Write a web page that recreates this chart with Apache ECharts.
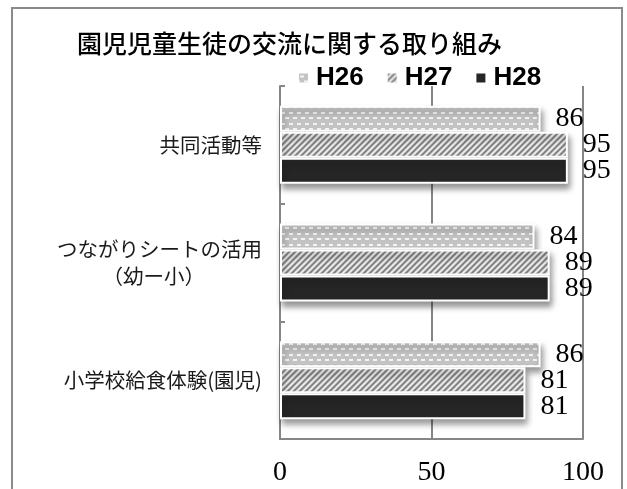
<!DOCTYPE html>
<html>
<head>
<meta charset="utf-8">
<script src="https://cdn.jsdelivr.net/npm/echarts@6/dist/echarts.min.js"></script>
<style>
  html, body { margin: 0; padding: 0; background: #fff; }
  #chart { width: 627px; height: 489px; }
</style>
</head>
<body>
<div id="chart"></div>
<script>
// Activities (top to bottom)
const categories = ['共同活動等', 'つながりシートの活用\n（幼ー小）', '小学校給食体験(園児)'];
// Fiscal years
const seriesNames = ['H26', 'H27', 'H28'];
const valuesH26 = [86, 84, 86];
const valuesH27 = [95, 89, 81];
const valuesH28 = [95, 89, 81];
// Value axis range
const axisMin = 0;
const axisMax = 100;
const axisStep = 50;

// Dotted gray fill
function dotPattern() {
  const c = document.createElement('canvas');
  c.width = 8; c.height = 11;
  const g = c.getContext('2d');
  g.fillStyle = '#c3c3c3';
  g.fillRect(0, 0, 8, 11);
  g.fillStyle = '#f4f4f4';
  g.fillRect(1, 2, 4, 2);
  g.fillRect(5, 7, 3, 2);
  g.fillRect(0, 7, 1, 2);
  return c;
}

// Diagonal stripe fill
function stripePattern() {
  const c = document.createElement('canvas');
  c.width = 6; c.height = 6;
  const g = c.getContext('2d');
  const shades = ['#7a7a7a', '#9c9c9c', '#d4d4d4', '#f4f4f4', '#d4d4d4', '#9c9c9c'];
  for (let y = 0; y < 6; y++) {
    for (let x = 0; x < 6; x++) {
      g.fillStyle = shades[(x + y) % 6];
      g.fillRect(x, y, 1, 1);
    }
  }
  return c;
}

const fills = [
  { image: dotPattern(), repeat: 'repeat' },
  { image: stripePattern(), repeat: 'repeat' },
  '#262626'
];
const seriesValues = [valuesH26, valuesH27, valuesH28];

const chart = echarts.init(document.getElementById('chart'), null, { renderer: 'canvas' });

const option = {
  animation: false,
  backgroundColor: '#fff',
  title: {
    text: '園児児童生徒の交流に関する取り組み',
    left: 72,
    top: 26,
    textStyle: {
      fontFamily: '"Noto Sans CJK JP", sans-serif',
      fontSize: 25,
      fontWeight: 500,
      color: '#000'
    }
  },
  legend: {
    data: seriesNames,
    left: 294,
    top: 60,
    itemWidth: 9,
    itemHeight: 9,
    itemGap: 24,
    icon: 'rect',
    itemStyle: { borderWidth: 0, shadowBlur: 0, shadowOffsetX: 0, shadowOffsetY: 0 },
    textStyle: {
      fontFamily: '"Liberation Sans", Arial, sans-serif',
      fontSize: 26,
      fontWeight: 'bold',
      color: '#000',
      padding: [0, 0, 0, 3]
    }
  },
  graphic: [{
    type: 'rect',
    shape: { x: 12, y: 8, width: 610, height: 500 },
    style: { fill: 'none', stroke: '#8a8a8a', lineWidth: 2 },
    silent: true,
    z: -1
  }],
  grid: { left: 280, right: 44, top: 86, bottom: 50 },
  xAxis: {
    type: 'value',
    min: axisMin,
    max: axisMax,
    interval: axisStep,
    axisLine: { show: true, lineStyle: { color: '#868686', width: 2 } },
    axisTick: { show: false },
    splitLine: { show: true, lineStyle: { color: '#868686', width: 2 } },
    axisLabel: {
      margin: 20,
      fontFamily: '"Liberation Serif", serif',
      fontSize: 28,
      color: '#000'
    }
  },
  yAxis: {
    type: 'category',
    data: categories,
    inverse: true,
    axisLine: { show: true, lineStyle: { color: '#868686', width: 2 } },
    axisTick: { show: true, inside: true, length: 5, lineStyle: { color: '#868686', width: 2 } },
    axisLabel: {
      margin: 18,
      fontFamily: '"Noto Sans CJK JP", sans-serif',
      fontSize: 20.5,
      lineHeight: 27,
      color: '#1a1a1a',
      formatter: function (v) {
        const lines = v.split('\n');
        if (lines.length < 2) return v;
        return lines[0] + '\n{sub|' + lines[1] + '}';
      },
      rich: {
        sub: {
          fontFamily: '"Noto Sans CJK JP", sans-serif',
          fontSize: 20.5,
          lineHeight: 27,
          color: '#1a1a1a',
          padding: [0, 57, 0, 0]
        }
      }
    }
  },
  series: seriesNames.map(function (name, i) {
    return {
      name: name,
      type: 'bar',
      data: seriesValues[i],
      barWidth: 26,
      barGap: '0%',
      itemStyle: {
        color: fills[i],
        borderColor: '#ffffff',
        borderWidth: 2,
        shadowColor: 'rgba(0,0,0,0.4)',
        shadowBlur: 6,
        shadowOffsetX: 2,
        shadowOffsetY: 5
      },
      label: {
        show: true,
        position: 'right',
        distance: 15,
        fontFamily: '"Liberation Serif", serif',
        fontSize: 28,
        color: '#000'
      }
    };
  })
};

chart.setOption(option);
</script>
</body>
</html>
